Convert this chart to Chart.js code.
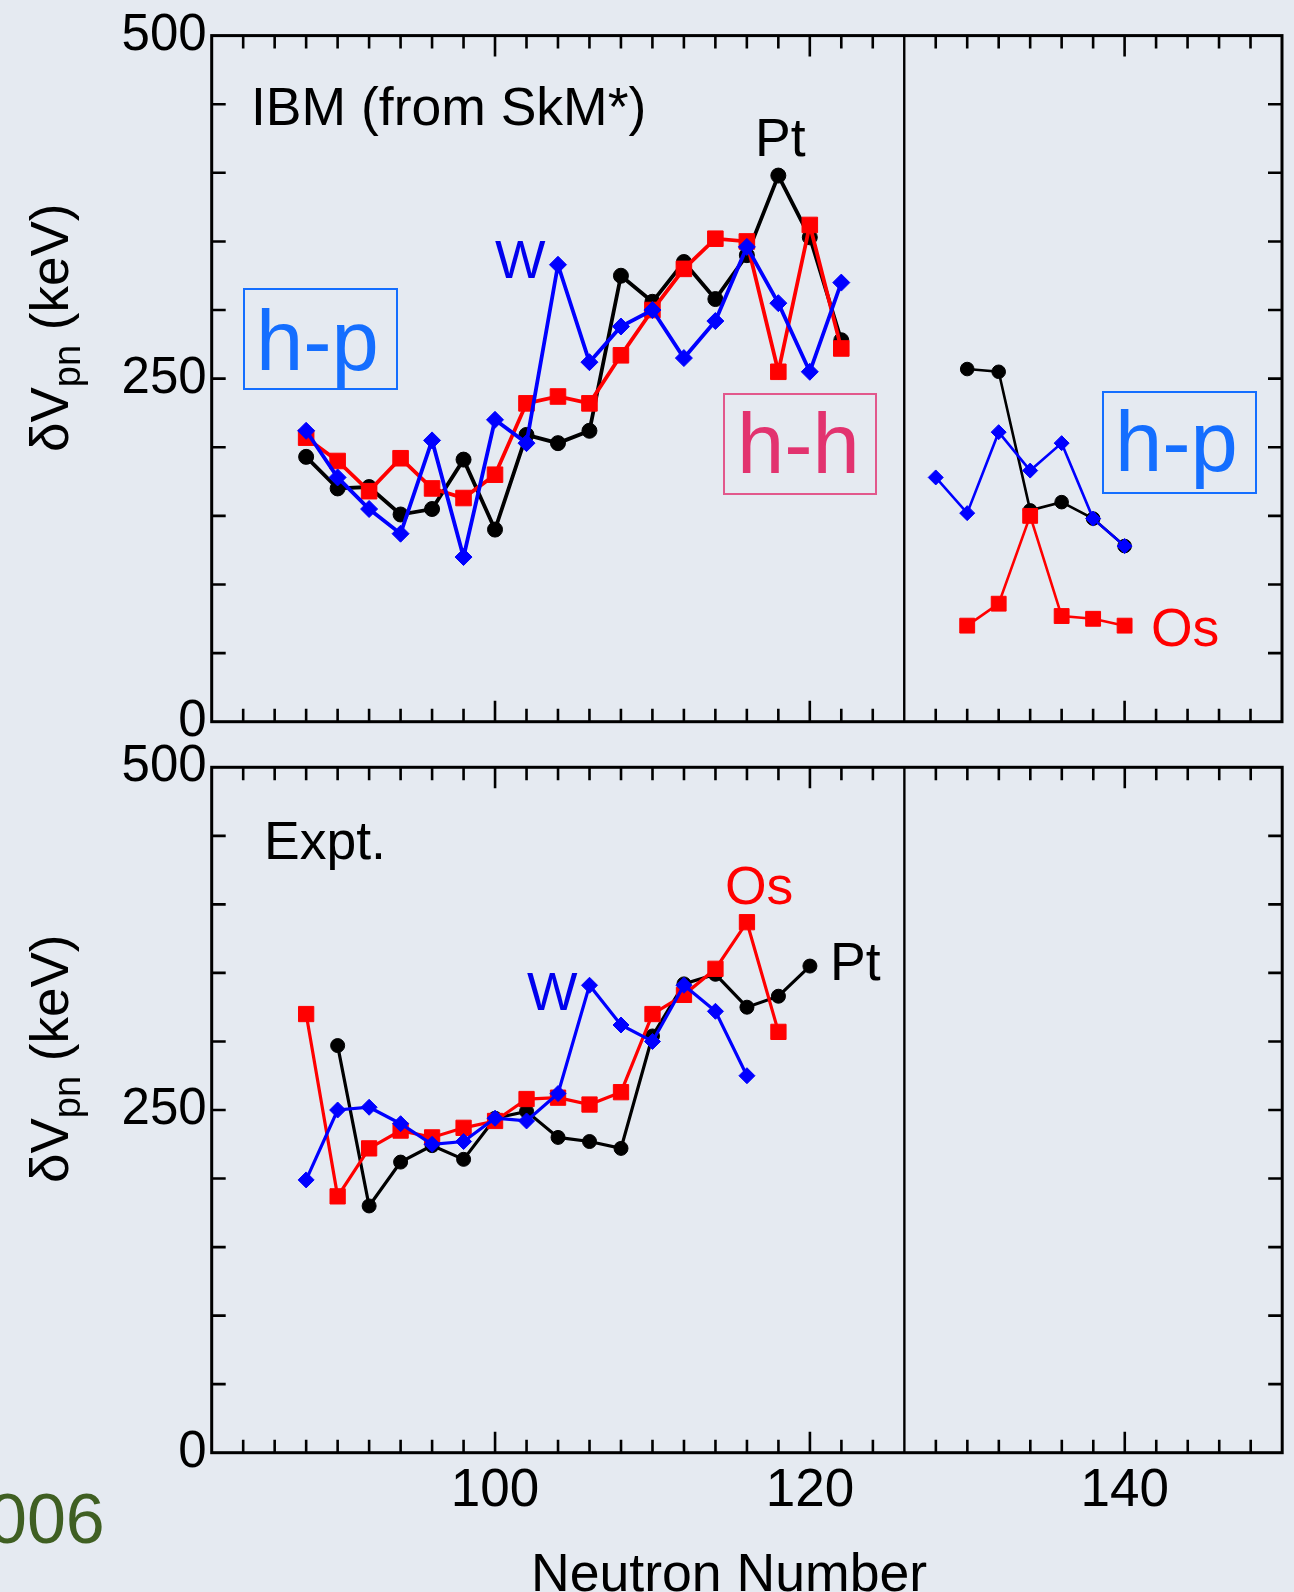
<!DOCTYPE html>
<html>
<head>
<meta charset="utf-8">
<title>dVpn IBM vs Expt</title>
<script src="https://cdn.jsdelivr.net/npm/chart.js@4.4.1/dist/chart.umd.min.js"></script>
<style>
    html, body { margin: 0; padding: 0; }
    body {
        width: 1294px; height: 1592px; position: relative; overflow: hidden;
        background: #e5eaf1;
        font-family: "Liberation Sans", Arial, Helvetica, sans-serif;
    }
    canvas { position: absolute; left: 0; top: 0; }
    .t { position: absolute; line-height: 1; white-space: nowrap; }
    .box { position: absolute; box-sizing: border-box; border: 2px solid; }
    .hp { color: #146eff; border-color: #146eff; }
    .hh { color: #e2336f; border-color: #e2588c; }
    .ytitle { position: absolute; line-height: 1; white-space: nowrap; font-size: 53px;
              transform-origin: 0 0; transform: rotate(-90deg); }
    .ytitle span { font-size: 38px; position: relative; top: 12px; }
</style>
</head>
<body>
<canvas id="ibm-chart" width="1294" height="1592"></canvas>
<canvas id="expt-chart" width="1294" height="1592"></canvas>

<!-- top panel labels -->
<div class="t" style="left:251px; top:80px; font-size:53.5px;">IBM (from SkM*)</div>
<div class="t" style="left:755px; top:111px; font-size:53.5px;">Pt</div>
<div class="t" style="left:495px; top:233px; font-size:53.5px; color:#0000ee;">W</div>
<div class="t" style="left:1151px; top:601px; font-size:53.5px; color:#ff0000;">Os</div>
<div class="box hp" style="left:243px; top:288px; width:155px; height:102px;"></div>
<div class="t hp" style="left:256px; top:298px; font-size:85px;">h-p</div>
<div class="box hh" style="left:723px; top:393px; width:154px; height:102px;"></div>
<div class="t hh" style="left:737px; top:401px; font-size:85px;">h-h</div>
<div class="box hp" style="left:1102px; top:391px; width:155px; height:103px;"></div>
<div class="t hp" style="left:1115px; top:399px; font-size:85px;">h-p</div>

<!-- bottom panel labels -->
<div class="t" style="left:264px; top:814px; font-size:53.5px;">Expt.</div>
<div class="t" style="left:725px; top:859px; font-size:53.5px; color:#ff0000;">Os</div>
<div class="t" style="left:830px; top:935px; font-size:53.5px;">Pt</div>
<div class="t" style="left:527px; top:965px; font-size:53.5px; color:#0000ee;">W</div>

<!-- axis titles -->
<div class="ytitle" style="left:23px; top:452px;">&delta;V<span>pn</span> (keV)</div>
<div class="ytitle" style="left:23px; top:1183px;">&delta;V<span>pn</span> (keV)</div>
<div class="t" style="left:531px; top:1546px; font-size:53.6px;">Neutron Number</div>
<div class="t" style="left:-12px; top:1484px; font-size:70px; color:#3f5f22;">006</div>

<script>
(function () {
    "use strict";

    // Neutron numbers and dVpn values (keV), IBM from SkM*
    var nIBM = [88, 90, 92, 94, 96, 98, 100, 102, 104, 106, 108, 110, 112, 114, 116, 118, 120, 122];
    var ptIBM = [193, 170, 171, 151, 155, 191, 140, 209, 203, 212, 325, 306, 335, 308, 340, 398, 353, 278];
    var osIBM = [207, 190, 168, 192, 170, 163, 180, 232, 237, 232, 267, 300, 330, 352, 350, 255, 362, 272];
    var wIBM = [212, 178, 155, 137, 205, 120, 220, 203, 333, 262, 288, 300, 265, 292, 346, 305, 255, 320];

    // beyond N = 126
    var nIBMHeavy = [128, 130, 132, 134, 136, 138, 140];
    var ptIBMHeavy = [null, 257, 255, 154, 160, 148, 128];
    var osIBMHeavy = [null, 70, 86, 150, 77, 75, 70];
    var wIBMHeavy = [178, 152, 211, 183, 203, 148, 128];

    // Experiment
    var nExpt = [88, 90, 92, 94, 96, 98, 100, 102, 104, 106, 108, 110, 112, 114, 116, 118, 120];
    var ptExpt = [null, 297, 180, 212, 224, 214, 244, 249, 230, 227, 222, 304, 342, 349, 325, 333, 355];
    var osExpt = [320, 187, 222, 235, 230, 237, 242, 258, 259, 254, 263, 320, 334, 353, 387, 307, null];
    var wExpt = [199, 250, 252, 240, 225, 227, 244, 242, 262, 341, 312, 300, 341, 322, 275, null, null];

    // Axes
    var yTickLabels = [0, 250, 500];
    var xTickLabels = [100, 120, 140];
    var xMin = 82, xMax = 150, shellClosure = 126;

    var FONT = '"Liberation Sans", Arial, Helvetica, sans-serif';
    var BLACK = "#000000", RED = "#ff0000", BLUE = "#0000ff";

    function points(xs, ys) {
        return xs.map(function (x, i) { return { x: x, y: ys[i] }; });
    }

    function series(label, xs, ys, color, style, radius, width) {
        return {
            label: label,
            data: points(xs, ys),
            borderColor: color,
            backgroundColor: color,
            borderWidth: width,
            pointStyle: style,
            pointRadius: radius,
            pointBorderWidth: 1,
            pointBorderColor: color,
            pointBackgroundColor: color,
            tension: 0,
            spanGaps: false
        };
    }

    // frame, inward ticks, N=126 line
    var framePlugin = {
        id: "frame",
        beforeDatasetsDraw: function (chart) {
            var ctx = chart.ctx, a = chart.chartArea;
            var sx = chart.scales.x, sy = chart.scales.y;
            var v, px, len;
            ctx.save();
            ctx.strokeStyle = "#000";
            ctx.lineCap = "butt";

            ctx.lineWidth = 2.6;
            ctx.beginPath();
            for (v = xMin + 2; v < xMax; v += 2) {
                if (v === shellClosure) continue;
                px = sx.getPixelForValue(v);
                len = (v % 20 === 0) ? 21 : 13;
                ctx.moveTo(px, a.bottom); ctx.lineTo(px, a.bottom - len);
                ctx.moveTo(px, a.top); ctx.lineTo(px, a.top + len);
            }
            for (v = 50; v < 500; v += 50) {
                px = sy.getPixelForValue(v);
                ctx.moveTo(a.left, px); ctx.lineTo(a.left + 14, px);
                ctx.moveTo(a.right, px); ctx.lineTo(a.right - 14, px);
            }
            ctx.stroke();

            ctx.lineWidth = 2.4;
            ctx.beginPath();
            px = sx.getPixelForValue(shellClosure);
            ctx.moveTo(px, a.top); ctx.lineTo(px, a.bottom);
            ctx.stroke();

            ctx.lineWidth = 3;
            ctx.strokeRect(a.left, a.top, a.right - a.left, a.bottom - a.top);
            ctx.restore();
        }
    };

    function yScale() {
        return {
            type: "linear", min: 0, max: 500,
            afterFit: function (s) { s.width = 211.7; },
            afterBuildTicks: function (s) {
                s.ticks = yTickLabels.map(function (v) { return { value: v }; });
            },
            ticks: { font: { family: FONT, size: 51 }, color: "#000", padding: 5 },
            grid: { display: false, drawTicks: false },
            border: { display: false }
        };
    }

    function baseOptions(padding, xScale) {
        return {
            responsive: false,
            animation: false,
            devicePixelRatio: 1,
            layout: { padding: padding },
            plugins: { legend: { display: false }, tooltip: { enabled: false } },
            scales: { x: xScale, y: yScale() }
        };
    }

    // IBM panel
    var ctx1 = document.getElementById("ibm-chart").getContext("2d");
    var ibmChart = new Chart(ctx1, {
        type: "line",
        data: {
            datasets: [
                series("W", nIBM, wIBM, BLUE, "rectRot", 8.5, 3.8),
                series("Os", nIBM, osIBM, RED, "rect", 11, 3.8),
                series("Pt", nIBM, ptIBM, BLACK, "circle", 7.5, 3.8),
                series("W", nIBMHeavy, wIBMHeavy, BLUE, "rectRot", 7.5, 2.6),
                series("Os", nIBMHeavy, osIBMHeavy, RED, "rect", 10.5, 2.6),
                series("Pt", nIBMHeavy, ptIBMHeavy, BLACK, "circle", 6.8, 2.6)
            ]
        },
        options: baseOptions({ top: 33.3, right: 11.7, bottom: 870.3, left: 0 }, {
            type: "linear", min: xMin, max: xMax, display: false
        }),
        plugins: [framePlugin]
    });

    // Expt panel
    var ctx2 = document.getElementById("expt-chart").getContext("2d");
    var exptChart = new Chart(ctx2, {
        type: "line",
        data: {
            datasets: [
                series("W", nExpt, wExpt, BLUE, "rectRot", 8, 3.2),
                series("Os", nExpt, osExpt, RED, "rect", 10.8, 3.2),
                series("Pt", nExpt, ptExpt, BLACK, "circle", 7, 3.2)
            ]
        },
        options: baseOptions({ top: 767.3, right: 11.7, bottom: 0, left: 0 }, {
            type: "linear", min: xMin, max: xMax,
            afterFit: function (s) { s.height = 139.3; },
            afterBuildTicks: function (s) {
                s.ticks = xTickLabels.map(function (v) { return { value: v }; });
            },
            ticks: { font: { family: FONT, size: 53 }, color: "#000", padding: 7,
                     autoSkip: false, maxRotation: 0 },
            grid: { display: false, drawTicks: false },
            border: { display: false }
        }),
        plugins: [framePlugin]
    });
})();
</script>
</body>
</html>
